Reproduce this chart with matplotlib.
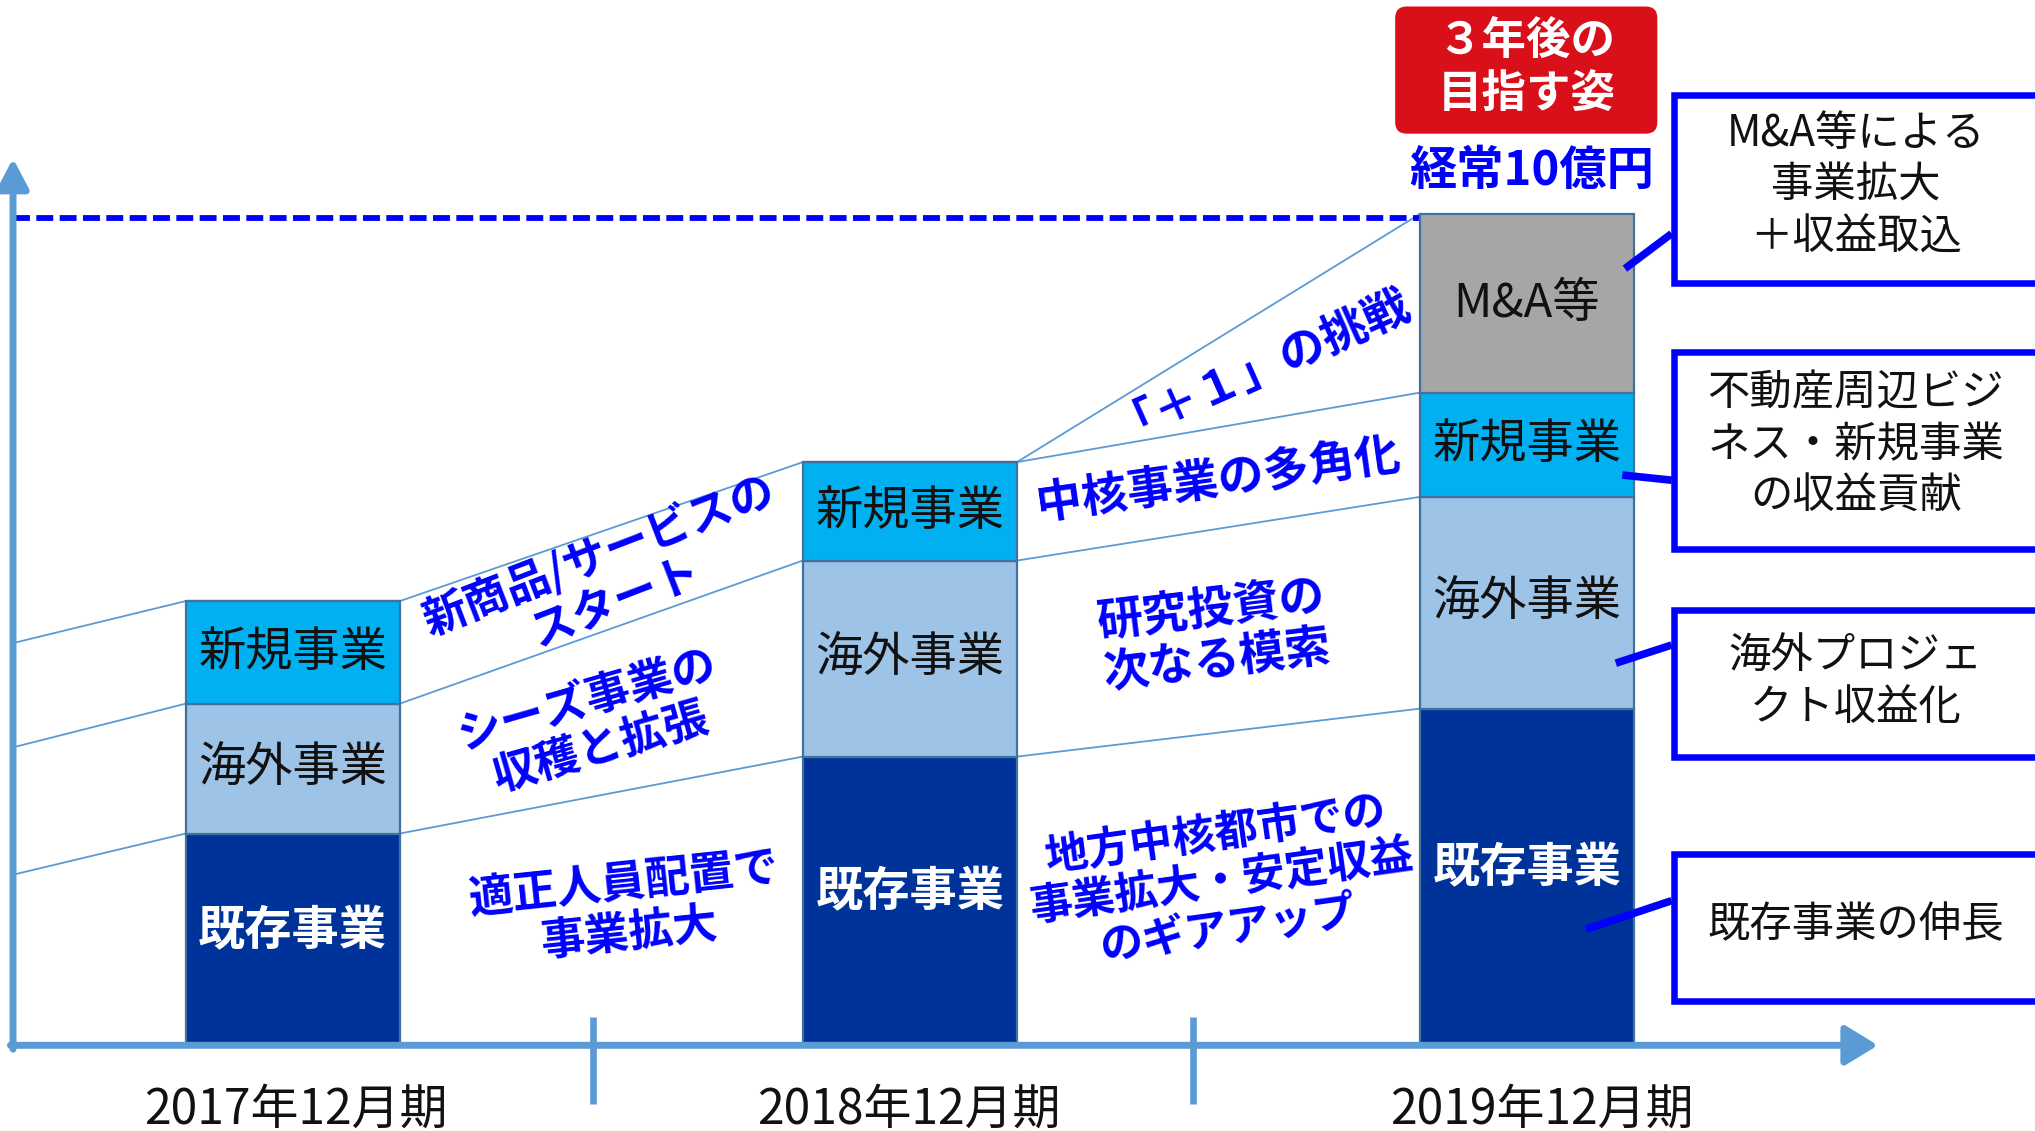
import matplotlib
matplotlib.use('Agg')
import matplotlib.pyplot as plt
import numpy as np
from matplotlib.patches import FancyBboxPatch, Rectangle
from matplotlib.transforms import Affine2D

plt.rcParams['font.family'] = ['Noto Sans CJK JP', 'DejaVu Sans']

# ---------------- data ----------------
periods = ['2017年12月期', '2018年12月期', '2019年12月期']
existing = [2.56, 3.49, 4.07]     # 既存事業
overseas = [1.57, 2.37, 2.56]     # 海外事業
new_biz = [1.24, 1.19, 1.26]      # 新規事業
mna = [0.0, 0.0, 2.16]            # M&A等
segment_labels = ['既存事業', '海外事業', '新規事業', 'M&A等']
prior_levels = [2.07, 3.61, 4.87]  # level of each boundary at the axis (before 2017)
target_value = 10.0
target_label = '経常10億円'
goal_label = '３年後の\n目指す姿'
notes_2018 = ['新商品/サービスの\nスタート', 'シーズ事業の\n収穫と拡張', '適正人員配置で\n事業拡大']
notes_2019 = ['「＋１」の挑戦', '中核事業の多角化', '研究投資の\n次なる模索',
              '地方中核都市での\n事業拡大・安定収益\nのギアアップ']
callouts = ['M&A等による\n事業拡大\n＋収益取込', '不動産周辺ビジ\nネス・新規事業\nの収益貢献',
            '海外プロジェ\nクト収益化', '既存事業の伸長']

# ---------------- layout ----------------
W, H = 2035, 1131
S = W / 1568.0
fig = plt.figure(figsize=(W / 100, H / 100), dpi=100)
ax = fig.add_axes([0, 0, 1, 1])
ax.set_xlim(-0.4743, 2.8233)
ax.set_ylim(-1.036, 12.637)
ax.axis('off')

def X(px):
    return (px - 225.5) / 475.5

def Y(py):
    return (805 - py) / 63.7

P = Affine2D().scale(S, -S).translate(0, H)  # layout coords (reference px) -> display

AXIS_C = '#5B9BD5'
BLUE = '#0000FF'
colors = ['#003399', '#9DC3E6', '#00B0F0', '#A6A6A6']
label_colors = ['white', '#111111', '#111111', '#111111']
label_weights = ['bold', 'normal', 'normal', 'normal']

x = np.arange(len(periods))
bw = 165 / 475.5

# stacked bars
series = [existing, overseas, new_biz, mna]
bottom = np.zeros(len(periods))
cums = []
for vals, c, name, lc, lw_ in zip(series, colors, segment_labels, label_colors, label_weights):
    vals = np.array(vals, dtype=float)
    ax.bar(x, vals, bw, bottom=bottom, color=c, edgecolor='#41719C', linewidth=1.6, zorder=3)
    for i in range(len(x)):
        if vals[i] > 0:
            ax.text(x[i], bottom[i] + vals[i] / 2 + (0.1 if name == '既存事業' else 0), name,
                    ha='center', va='center', fontsize=34, color=lc, weight=lw_, zorder=5)
    bottom = bottom + vals
    cums.append(bottom.copy())

# thin connector lines
lc_kw = dict(color=AXIS_C, lw=1.3, zorder=2)
for k in range(3):
    ax.plot([X(12), x[0] - bw / 2], [prior_levels[k], cums[k][0]], **lc_kw)
    ax.plot([x[0] + bw / 2, x[1] - bw / 2], [cums[k][0], cums[k][1]], **lc_kw)
    ax.plot([x[1] + bw / 2, x[2] - bw / 2], [cums[k][1], cums[k][2]], **lc_kw)
ax.plot([x[1] + bw / 2, x[2] - bw / 2], [cums[2][1], cums[3][2]], **lc_kw)

# target dashed line
ax.plot([X(10), x[2] - bw / 2], [target_value, target_value], color=BLUE, lw=4.2,
        ls=(0, (2.9, 1.1)), zorder=2)

# axes with arrows
ax.annotate('', xy=(X(1447), 0), xytext=(X(8), 0),
            arrowprops=dict(arrowstyle='-|>,head_length=0.9,head_width=0.55', color=AXIS_C,
                            lw=5, mutation_scale=22, shrinkA=0, shrinkB=0), zorder=4)
ax.annotate('', xy=(X(10), Y(122)), xytext=(X(10), Y(808)),
            arrowprops=dict(arrowstyle='-|>,head_length=0.95,head_width=0.5', color=AXIS_C,
                            lw=5, mutation_scale=19, shrinkA=0, shrinkB=0), zorder=4)
for tx in (457, 919):
    ax.plot([X(tx), X(tx)], [Y(783), Y(850)], color=AXIS_C, lw=4.8, solid_capstyle='butt')

# category labels
for lbl, px in zip(periods, (228, 700, 1188)):
    ax.text(X(px), Y(855), lbl, ha='center', va='center', fontsize=34.5, color='#111111')

# goal box
goal = FancyBboxPatch((1075, 5), 202, 98, boxstyle='round,pad=0,rounding_size=9',
                      transform=P, facecolor='#D9101A', edgecolor='none', zorder=5)
fig.add_artist(goal)
fig.text(1176, 52, goal_label, transform=P, ha='center', va='center', fontsize=32,
         weight='bold', color='white', linespacing=1.2, zorder=6)
fig.text(1180, 132, target_label, transform=P, ha='center', va='center', fontsize=34,
         weight='bold', color=BLUE, zorder=6)

# growth notes
note_pos_2018 = [(468, 446, 21), (458, 558, 16), (483, 700, 6)]
note_size_2018 = [32, 32, 32]
for txt, (px, py, rot), fs in zip(notes_2018, note_pos_2018, note_size_2018):
    fig.text(px, py, txt, transform=P, ha='center', va='center', rotation=rot,
             rotation_mode='anchor', fontsize=fs, weight='bold', color=BLUE,
             linespacing=1.12, multialignment='center', zorder=6)
note_pos_2019 = [(970, 276, 24), (939, 370, 8), (936, 490, 7), (941, 679, 8)]
note_size_2019 = [33, 33, 33, 31]
for txt, (px, py, rot), fs in zip(notes_2019, note_pos_2019, note_size_2019):
    fig.text(px, py, txt, transform=P, ha='center', va='center', rotation=rot,
             rotation_mode='anchor', fontsize=fs, weight='bold', color=BLUE,
             linespacing=1.12, multialignment='center', zorder=6)

# callout boxes
box_rows = [(73, 218), (271, 423), (470, 583), (658, 771)]
text_y = [143, 343, 526, 713]
leaders = [((1288, 180), (1252, 207)), ((1288, 370), (1250, 366)),
           ((1288, 497), (1245, 511)), ((1288, 694), (1222, 716))]
for txt, (y0, y1), ty, (p0, p1) in zip(callouts, box_rows, text_y, leaders):
    r = Rectangle((1290, y0), 290, y1 - y0, transform=P, facecolor='white',
                  edgecolor=BLUE, lw=4.7, zorder=5)
    fig.add_artist(r)
    fig.text(1430, ty, txt, transform=P, ha='center', va='center', fontsize=30.5,
             color='#111111', linespacing=1.22, multialignment='center', zorder=6)
    fig.add_artist(plt.Line2D([p0[0], p1[0]], [p0[1], p1[1]], transform=P, color=BLUE,
                              lw=5.5, solid_capstyle='butt', zorder=6))

fig.savefig('out.png', dpi=100)
